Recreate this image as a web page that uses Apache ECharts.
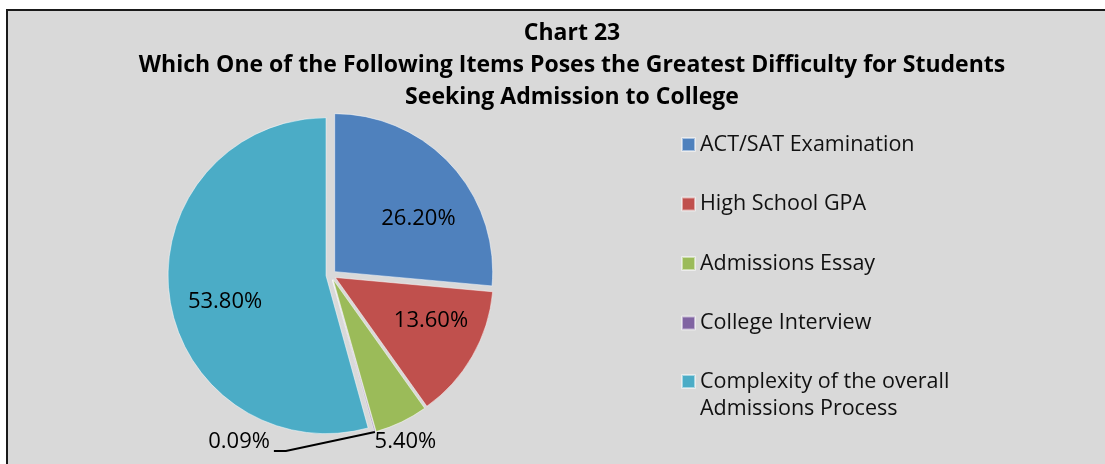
<!DOCTYPE html>
<html>
<head>
<meta charset="utf-8">
<script src="https://cdn.jsdelivr.net/npm/echarts@6/dist/echarts.min.js"></script>
<style>
    html, body { margin: 0; padding: 0; background: #fff; overflow: hidden; }
    .frame {
        position: absolute;
        left: 6px;
        top: 9px;
        width: 1140px;
        height: 480px;
        border: 2px solid #1a1a1a;
        background: #d9d9d9;
    }
    #chart {
        position: absolute;
        left: 0;
        top: 0;
        width: 1105px;
        height: 464px;
    }
</style>
</head>
<body>
<div class="frame"></div>
<div id="chart"></div>
<script>
const categories = [
    'ACT/SAT Examination',
    'High School GPA',
    'Admissions Essay',
    'College Interview',
    'Complexity of the overall Admissions Process'
]
const values = [26.2, 13.6, 5.4, 0.09, 53.8]
const valueLabels = ['26.20%', '13.60%', '5.40%', '0.09%', '53.80%']
const colors = ['#4f81bd', '#c0504d', '#9bbb59', '#8064a2', '#4bacc6']
const titleLines = [
    'Chart 23',
    'Which One of the Following Items Poses the Greatest Difficulty for Students',
    'Seeking Admission to College'
]

const font = '"Open Sans", Lato, sans-serif'
const insideIdx = [0, 1, 4]
const insideNudge = { 0: [4, 20], 1: [2, -11], 4: [6, 12] }
const center = [331, 275]

const legendText = {
    fontFamily: font,
    fontSize: 21.5,
    lineHeight: 27,
    color: '#111'
}
const legendBase = {
    orient: 'vertical',
    left: 676,
    itemWidth: 13,
    itemHeight: 13,
    itemGap: 32.5,
    icon: 'rect',
    selectedMode: false,
    textStyle: legendText
}

const chart = echarts.init(document.getElementById('chart'))

chart.setOption({
    backgroundColor: 'transparent',
    animation: false,
    title: {
        text: titleLines.join('\n'),
        left: 567,
        top: 12,
        textAlign: 'center',
        textStyle: {
            fontFamily: font,
            fontWeight: 'bold',
            fontSize: 23,
            lineHeight: 32,
            color: '#000'
        }
    },
    legend: [
        {
            ...legendBase,
            top: 126,
            data: categories.slice(0, 4)
        },
        {
            // last entry wraps; an empty leading line keeps its square beside the first line
            ...legendBase,
            top: 336,
            data: categories.slice(4),
            formatter: name => '\n' + name.replace('overall ', 'overall\n')
        }
    ],
    series: [
        {
            // the exploded pie itself
            type: 'pie',
            center,
            radius: 158,
            startAngle: 90,
            clockwise: true,
            selectedMode: 'multiple',
            selectedOffset: 5,
            silent: true,
            itemStyle: { borderColor: 'rgba(255,255,255,0.5)', borderWidth: 1 },
            label: { show: false },
            labelLine: { show: false },
            data: categories.map((name, i) => ({
                name,
                value: values[i],
                selected: true,
                itemStyle: { color: colors[i] },
                select: { itemStyle: { color: colors[i] } }
            }))
        },
        {
            // label-only ring so the inside labels sit further out than the half radius
            type: 'pie',
            center,
            radius: 220,
            startAngle: 90,
            clockwise: true,
            silent: true,
            z: 3,
            itemStyle: { color: 'transparent', borderWidth: 0 },
            label: {
                position: 'inside',
                fontFamily: font,
                fontSize: 22,
                color: '#000'
            },
            labelLine: { show: false },
            data: categories.map((name, i) => ({
                name: name + ' ',
                value: values[i],
                label: {
                    show: insideIdx.includes(i),
                    formatter: valueLabels[i],
                    offset: insideNudge[i] || [0, 0]
                }
            }))
        },
        {
            // outside labels for the two small slices
            type: 'pie',
            center,
            radius: 163,
            startAngle: 90,
            clockwise: true,
            silent: true,
            z: 3,
            itemStyle: { color: 'transparent', borderWidth: 0 },
            label: {
                position: 'outside',
                fontFamily: font,
                fontSize: 22,
                color: '#000'
            },
            labelLine: { show: true, length: 10, length2: 0, lineStyle: { color: '#000', width: 2 } },
            labelLayout: params => {
                const p = params.labelLinePoints
                if (!p) return {}
                const x0 = p[0][0], y0 = p[0][1]
                if (params.dataIndex === 3) {
                    return {
                        x: x0 - 105, y: y0 + 10, align: 'right', verticalAlign: 'middle',
                        labelLinePoints: [[x0, y0], [x0 - 89, y0 + 19], [x0 - 101, y0 + 19]]
                    }
                }
                if (params.dataIndex === 2) {
                    return { x: x0 + 4, y: y0 + 20, align: 'center', verticalAlign: 'middle' }
                }
                return {}
            },
            data: categories.map((name, i) => ({
                name: name + '  ',
                value: values[i],
                label: { show: i === 2 || i === 3, formatter: valueLabels[i] },
                labelLine: i === 3 ? { show: true } : { show: i === 2, lineStyle: { opacity: 0 } }
            }))
        }
    ]
})
</script>
</body>
</html>
